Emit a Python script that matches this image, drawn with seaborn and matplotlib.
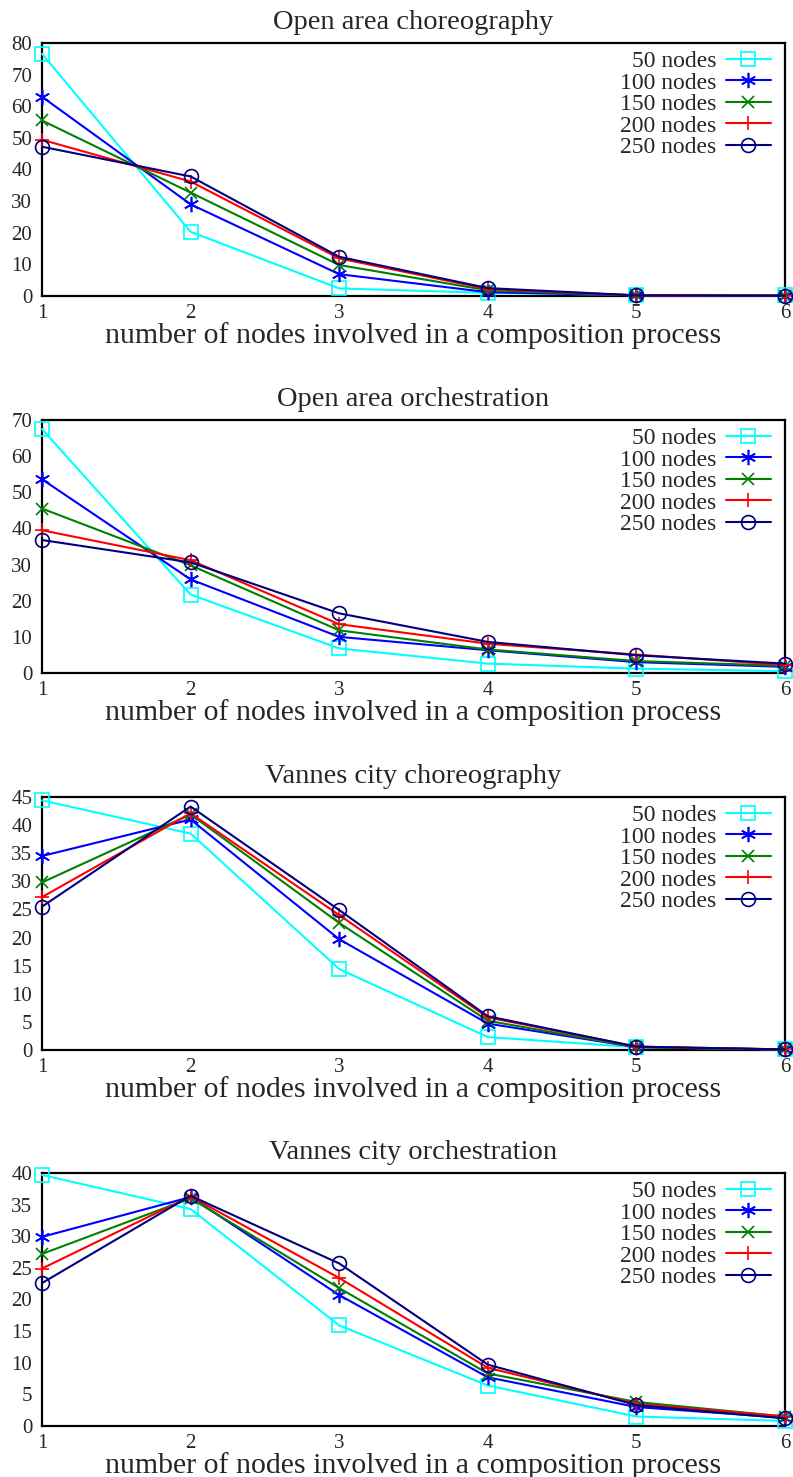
import matplotlib
matplotlib.use("Agg")
import matplotlib.pyplot as plt
import seaborn as sns
import pandas as pd

x_nodes = [1, 2, 3, 4, 5, 6]
series_labels = ["50 nodes", "100 nodes", "150 nodes", "200 nodes", "250 nodes"]
titles = ["Open area choreography", "Open area orchestration",
          "Vannes city choreography", "Vannes city orchestration"]
y_limits = [80, 70, 45, 40]
y_steps = [10, 10, 5, 5]

open_choreo = [
    [76.6, 20.3, 2.4, 1.0, 0.3, 0.3],
    [63.0, 29.0, 6.9, 1.2, 0.2, 0.1],
    [55.5, 32.7, 9.8, 1.8, 0.2, 0.1],
    [49.4, 36.2, 11.9, 2.2, 0.2, 0.1],
    [47.2, 37.8, 12.4, 2.5, 0.2, 0.1],
]
open_orch = [
    [67.5, 21.7, 6.8, 2.6, 1.2, 0.5],
    [53.6, 25.9, 10.0, 6.3, 3.0, 1.7],
    [45.5, 29.8, 11.8, 6.5, 3.3, 2.0],
    [39.5, 31.2, 13.5, 8.1, 5.1, 2.2],
    [36.8, 30.6, 16.5, 8.6, 4.9, 2.6],
]
vannes_choreo = [
    [44.4, 38.5, 14.4, 2.3, 0.5, 0.1],
    [34.5, 41.0, 19.7, 4.7, 0.5, 0.1],
    [29.8, 41.9, 22.6, 5.2, 0.5, 0.1],
    [27.2, 42.1, 24.0, 5.8, 0.6, 0.1],
    [25.5, 43.3, 24.9, 6.0, 0.6, 0.1],
]
vannes_orch = [
    [39.7, 34.3, 15.9, 6.4, 1.5, 0.8],
    [29.9, 36.2, 20.7, 7.7, 3.0, 1.3],
    [27.2, 36.0, 21.8, 8.3, 3.8, 1.5],
    [24.9, 36.3, 23.4, 9.2, 3.5, 1.5],
    [22.6, 36.4, 25.7, 9.7, 3.3, 1.2],
]
all_data = [open_choreo, open_orch, vannes_choreo, vannes_orch]

colors = ["#00ffff", "#0000ff", "#008000", "#ff0000", "#000080"]
markers = ["s", (6, 2, 0), "x", "+", "o"]
msizes = [10, 11, 9, 10, 10]

sns.set_style("white")
plt.rcParams["font.family"] = ["Liberation Serif", "DejaVu Serif"]

W, H = 793, 1477
fig = plt.figure(figsize=(W / 100, H / 100), dpi=100)

# axes boxes in pixels: (top, bottom)
boxes = [(43, 296), (420, 673), (797, 1050), (1173, 1426)]
left, right = 42, 785

for i, data in enumerate(all_data):
    top, bottom = boxes[i]
    ax = fig.add_axes([left / W, 1 - bottom / H, (right - left) / W, (bottom - top) / H])
    rows = []
    for s, vals in enumerate(data):
        for xv, yv in zip(x_nodes, vals):
            rows.append({"x": xv, "y": yv, "series": series_labels[s]})
    df = pd.DataFrame(rows)
    for s, lab in enumerate(series_labels):
        sub = df[df["series"] == lab]
        sns.lineplot(data=sub, x="x", y="y", ax=ax, color=colors[s], label=lab,
                     marker=markers[s], markersize=msizes[s], markerfacecolor="none",
                     markeredgecolor=colors[s], markeredgewidth=1.2, linewidth=1.5,
                     clip_on=False)
    ax.set_xlim(1, 6)
    ax.set_ylim(0, y_limits[i])
    ax.set_xticks(x_nodes)
    ax.set_yticks(range(0, y_limits[i] + 1, y_steps[i]))
    ax.tick_params(length=0, labelsize=15)
    ax.tick_params(axis="y", pad=7)
    ax.tick_params(axis="x", pad=6)
    for sp in ax.spines.values():
        sp.set_color("black")
        sp.set_linewidth(1.6)
        sp.set_zorder(1)
    ax.set_title(titles[i], fontsize=20.5, pad=10)
    ax.set_xlabel("number of nodes involved in a composition process", fontsize=21.5, labelpad=-1)
    ax.set_ylabel("")
    ax.legend(loc="upper right", frameon=False, markerfirst=False, fontsize=17,
              handlelength=1.9, labelspacing=0.0, borderaxespad=0.2, handletextpad=0.42,
              bbox_to_anchor=(1.0, 1.026))

fig.savefig("out.png", dpi=100)
